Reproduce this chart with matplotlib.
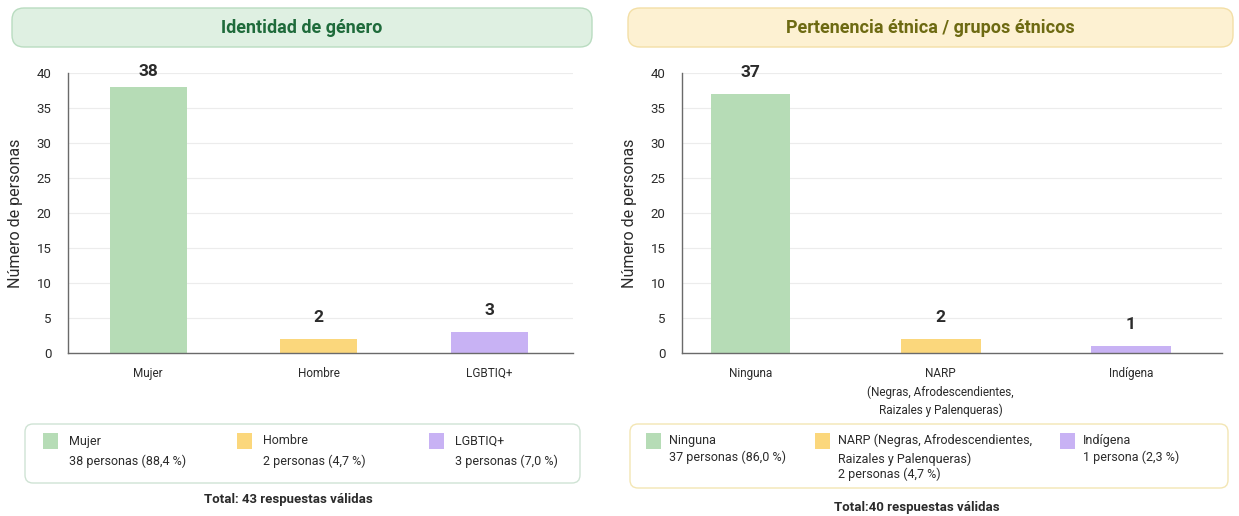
import matplotlib
matplotlib.use("Agg")
import matplotlib.pyplot as plt
from matplotlib.patches import FancyBboxPatch, Rectangle

plt.rcParams['font.family'] = ['Roboto', 'DejaVu Sans']

# --- data ---
genero_cats = ["Mujer", "Hombre", "LGBTIQ+"]
genero_vals = [38, 2, 3]
genero_legend = ["38 personas (88,4 %)", "2 personas (4,7 %)", "3 personas (7,0 %)"]
genero_total = 43

etnia_cats = ["Ninguna", "NARP\n(Negras, Afrodescendientes,\nRaizales y Palenqueras)", "Indígena"]
etnia_vals = [37, 2, 1]
etnia_legend_names = ["Ninguna", "NARP (Negras, Afrodescendientes,\nRaizales y Palenqueras)", "Indígena"]
etnia_legend = ["37 personas (86,0 %)", "2 personas (4,7 %)", "1 persona (2,3 %)"]
etnia_total = 40

y_ticks = [0, 5, 10, 15, 20, 25, 30, 35, 40]

bar_colors = ["#b6dcb6", "#fbd77c", "#c8b2f4"]
TXT = "#2b2b2b"

W, H = 1239, 516
fig = plt.figure(figsize=(W / 100, H / 100), dpi=100)
fig.patch.set_facecolor("white")

# overlay in pixel coords for the boxes and free text
ov = fig.add_axes([0, 0, 1, 1])
ov.set_xlim(0, W)
ov.set_ylim(H, 0)
ov.axis("off")


def rbox(x0, y0, x1, y1, fc, ec, r=10, lw=1.0):
    p = FancyBboxPatch((x0, y0), x1 - x0, y1 - y0,
                       boxstyle="round,pad=0,rounding_size=%d" % r,
                       fc=fc, ec=ec, lw=lw)
    ov.add_patch(p)


def px_axes(x0, x1, ytop, ybot):
    return fig.add_axes([x0 / W, 1 - ybot / H, (x1 - x0) / W, (ybot - ytop) / H])


def bar_panel(ax, cats, vals, xlim, width):
    x = range(len(cats))
    ax.bar(x, vals, width=width, color=bar_colors, zorder=2)
    ax.set_facecolor("none")
    ax.set_xlim(*xlim)
    ax.set_ylim(0, 40)
    ax.set_yticks(y_ticks)
    ax.set_xticks(list(x))
    ax.set_xticklabels(cats, fontsize=8.5, color=TXT, linespacing=1.5)
    ax.tick_params(axis="both", length=0, pad=10)
    ax.tick_params(axis="y", labelsize=9.5, labelcolor=TXT, pad=12)
    for s in ["top", "right"]:
        ax.spines[s].set_visible(False)
    for s in ["left", "bottom"]:
        ax.spines[s].set_color("#6a6a6a")
        ax.spines[s].set_linewidth(1.0)
    ax.yaxis.grid(True, color="#ececec", lw=0.8, zorder=0)
    ax.set_axisbelow(True)
    ax.set_ylabel("Número de personas", fontsize=11.5, color=TXT, labelpad=10)
    for xi, v in zip(x, vals):
        ax.text(xi, min(v + 2, 39.2), str(v), ha="center", va="bottom",
                fontsize=12.5, fontweight="bold", color=TXT, clip_on=False)


# ---- title boxes ----
rbox(12, 8, 592, 47, "#dff0e2", "#b9dcc0", r=12)
ov.text(302, 28, "Identidad de género", ha="center", va="center",
        fontsize=13, fontweight="bold", color="#1f6b3b")
rbox(628, 8, 1233, 47, "#fdf1d2", "#f3dfa6", r=12)
ov.text(930, 28, "Pertenencia étnica / grupos étnicos", ha="center", va="center",
        fontsize=13, fontweight="bold", color="#6d6a12")

# ---- bar charts ----
ax1 = px_axes(68, 573, 73, 353)
bar_panel(ax1, genero_cats, genero_vals, (-0.47, 2.49), 0.45)
ax2 = px_axes(682, 1222, 73, 353)
bar_panel(ax2, etnia_cats, etnia_vals, (-0.36, 2.48), 0.42)

# ---- legend boxes ----
rbox(25, 424, 580, 483, "white", "#cfe3d4", r=8)
sw_x = [43, 237, 429]
for i, name in enumerate(genero_cats):
    ov.add_patch(Rectangle((sw_x[i], 433), 15, 16, fc=bar_colors[i], ec="none"))
    ov.text(sw_x[i] + 26, 441, name, fontsize=9, color=TXT, va="center")
    ov.text(sw_x[i] + 26, 461, genero_legend[i], fontsize=9, color=TXT, va="center")
ov.text(288, 500, "Total: %d respuestas válidas" % genero_total, ha="center",
        va="center", fontsize=9.5, fontweight="bold", color=TXT)

rbox(630, 424, 1228, 488, "white", "#f3e6b4", r=8)
sw_x2 = [646, 815, 1060]
for i, name in enumerate(etnia_legend_names):
    ov.add_patch(Rectangle((sw_x2[i], 433), 15, 16, fc=bar_colors[i], ec="none"))
    nlines = name.count("\n") + 1
    ov.text(sw_x2[i] + 23, 434, name, fontsize=9, color=TXT, va="top",
            linespacing=1.45)
    ov.text(sw_x2[i] + 23, 441 + 16.5 * nlines, etnia_legend[i], fontsize=9,
            color=TXT, va="center")
ov.text(917, 507, "Total:%d respuestas válidas" % etnia_total, ha="center",
        va="center", fontsize=9.5, fontweight="bold", color=TXT)

fig.savefig("out.png", dpi=100, facecolor="white")
